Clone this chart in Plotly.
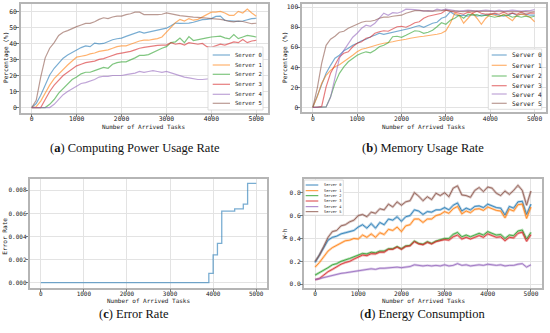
import plotly.graph_objects as go

W, H = 550, 333

# ---------------- data ----------------
tasks = list(range(0, 5001, 100))
servers = ["Server 0", "Server 1", "Server 2", "Server 3", "Server 4", "Server 5"]

cpu0 = [0, 2.5, 7.7, 14, 20.3, 24.5, 28, 30.8, 32.8, 34.5, 36, 37.4, 38.5, 38, 40.2, 39.7, 40, 41.2, 42.3, 42.9, 43.3,
        44.4, 45.4, 46.4, 47.3, 46.4, 47, 48, 48.5, 49, 49.5, 51, 52.7, 52.5, 52.5, 52.7, 53.2, 54, 54.8, 55, 55.5,
        56.9, 57, 54.3, 54, 54, 53.7, 54, 55, 55.5, 55.7]
cpu1 = [0, 0.5, 4, 9, 14, 18, 21, 24, 26.5, 29, 31.5, 32, 32.5, 33.5, 34, 35, 35.5, 36, 37, 38, 38.5, 38.5, 39.5,
        40.5, 41.5, 42, 42, 42.5, 43, 44, 47, 50, 53, 55, 54, 55.5, 54.5, 55, 56.5, 58.5, 59.5, 59.5, 60, 59, 57.5,
        57.5, 60, 59, 61.5, 59, 57]
cpu2 = [0, 0, 0, 0, 2, 5, 9, 12, 15, 17.5, 19, 21, 22, 22, 23, 24, 25, 24.5, 27, 28, 28.5, 28.5, 29.5, 31, 32.5,
        32.5, 33, 34.5, 36, 37, 38, 40.5, 41, 43.3, 40.5, 44.3, 41.8, 42.5, 43, 43.5, 44, 44.3, 44.5, 43.5, 42.8,
        45.5, 43, 44, 45, 44.5, 44]
cpu3 = [0, 0, 0, 5, 10, 14, 17, 20, 22, 24, 26, 27, 28, 28.5, 29, 30, 30.5, 31.5, 32.5, 33.5, 34, 34.5, 35, 36, 37,
        37.5, 38, 38.5, 38.8, 39, 39, 40.5, 39.5, 40, 39, 40.5, 40, 39.5, 40, 38, 37.5, 38.5, 39.5, 39, 40, 41, 40.5,
        42.5, 40.5, 41.5, 42]
cpu4 = [0, 0, 0, 0, 0, 2, 5, 8, 10, 11.5, 13, 15, 15.5, 16.5, 17.5, 19, 19.5, 19.5, 20, 20, 20, 20.5, 21, 21.5,
        22.5, 22, 22.5, 23, 22.5, 22, 22.5, 21.5, 21, 20, 19, 18.5, 18, 17.5, 17.5, 17.8, 18.5, 18.8, 19, 19, 19.2,
        19, 19, 19.3, 19.5, 19, 19]
cpu5 = [0, 4.5, 19, 31, 37, 40.5, 45, 47, 48, 49.5, 50.5, 51.5, 52.5, 52.5, 53.5, 55, 56, 55.5, 56.5, 57, 57, 58,
        58.5, 59.5, 59.5, 58, 57.8, 58, 58, 58.2, 59, 58.3, 57.8, 57.3, 57, 56.5, 56.4, 56.2, 56, 55.6, 55.3, 55, 55,
        54.5, 53.7, 53.5, 54, 53.7, 53, 52.3, 52.6]

mem0 = [0, 12, 24, 34, 42, 49, 52, 56.5, 59, 62, 64, 66.5, 68, 70.5, 72, 74, 73, 74, 74.5, 75.5, 76.5, 78, 79, 80.5,
        81.5, 80, 82, 84, 85, 89, 90.5, 95.5, 92.5, 91.5, 92, 91, 93, 91, 92, 92, 93, 93, 92, 91, 92, 94, 92, 93, 93,
        92, 92]
mem1 = [0, 10.5, 24, 32, 37, 40.5, 42.5, 45.5, 49, 52, 55.5, 58, 59, 60.5, 62, 63, 64, 64.5, 65.5, 66.5, 67, 68, 69,
        70, 70.5, 71, 71.5, 72, 73, 74, 76.5, 84, 94, 92, 84, 89, 94, 89, 83, 89, 93, 92, 90.5, 93, 90, 86.5, 92, 93,
        92, 90, 85.5]
mem2 = [0, 0, 0, 0.5, 10.5, 24, 34, 40.5, 45.5, 49, 52, 54, 55.5, 54.5, 57, 60.5, 62, 64.5, 70.5, 71, 70, 72, 74,
        76.5, 76, 74, 75, 77, 80.5, 84.5, 83, 87, 89, 92, 89, 93, 92, 92.5, 91, 92, 91, 90, 91, 92, 92, 90, 91, 90,
        91, 90, 91]
mem3 = [0, 0, 1, 20.5, 34, 42, 50.5, 54, 55.5, 60.5, 64, 65.5, 69, 70, 74, 75.5, 76.5, 76, 78, 80.5, 81, 80, 82,
        84.5, 85.5, 89, 91, 92, 93, 94, 97, 96, 95, 94, 93, 95, 94, 96, 94, 93, 93, 94, 93, 95, 93, 94, 93, 95, 93,
        94, 94]
mem4 = [0, 0, 0, 0.5, 10, 30, 49, 57, 64, 70, 74, 79, 82, 81, 84, 89, 94, 92, 94.5, 94, 95.5, 98, 98, 97.5, 97, 96,
        96.5, 96, 98, 97, 98, 97, 96.5, 96, 96.5, 97, 96.5, 96, 96.5, 97, 96.5, 96, 97, 96, 96.5, 97, 96.5, 96, 96.5,
        96.5, 97.5]
mem5 = [0, 19, 44, 62, 68, 71, 75, 76, 79, 81, 83, 85, 86, 86, 87, 89, 90, 90, 91, 91.5, 92, 94, 95.5, 96.5, 96.5,
        96, 96, 96, 96, 96.5, 97, 96, 96, 95.5, 95.5, 96, 96, 96, 95.5, 96, 96, 96, 95.5, 96, 96, 95.5, 96, 96, 95.5,
        95, 95.5]

err_tasks = [0, 3900, 4000, 4100, 4200, 4500, 4700, 4800, 5000]
err_rate = [0, 0.0008, 0.0024, 0.0034, 0.0062, 0.0064, 0.0068, 0.0086, 0.0086]

en0 = [0.19, 0.25, 0.32, 0.385, 0.41, 0.42, 0.44, 0.45, 0.46, 0.47, 0.50, 0.52, 0.49, 0.53, 0.49, 0.54, 0.52, 0.57,
       0.56, 0.59, 0.55, 0.59, 0.60, 0.65, 0.64, 0.61, 0.635, 0.63, 0.65, 0.65, 0.67, 0.65, 0.69, 0.71, 0.64, 0.665,
       0.65, 0.68, 0.685, 0.67, 0.70, 0.685, 0.67, 0.665, 0.605, 0.68, 0.665, 0.72, 0.725, 0.61, 0.70]
en1 = [0.15, 0.19, 0.24, 0.29, 0.32, 0.34, 0.36, 0.38, 0.385, 0.40, 0.395, 0.43, 0.41, 0.44, 0.41, 0.45, 0.435, 0.48,
       0.47, 0.50, 0.46, 0.51, 0.52, 0.57, 0.57, 0.54, 0.57, 0.57, 0.60, 0.61, 0.635, 0.62, 0.66, 0.68, 0.615, 0.64,
       0.625, 0.655, 0.66, 0.645, 0.675, 0.66, 0.645, 0.64, 0.58, 0.655, 0.64, 0.695, 0.70, 0.575, 0.675]
en2 = [0.08, 0.10, 0.125, 0.145, 0.17, 0.18, 0.20, 0.21, 0.225, 0.24, 0.255, 0.27, 0.265, 0.28, 0.275, 0.29, 0.29,
       0.31, 0.31, 0.33, 0.31, 0.335, 0.34, 0.378, 0.357, 0.35, 0.372, 0.357, 0.378, 0.386, 0.40, 0.40, 0.436, 0.453,
       0.415, 0.43, 0.415, 0.43, 0.445, 0.43, 0.46, 0.445, 0.43, 0.435, 0.40, 0.43, 0.425, 0.465, 0.474, 0.395, 0.453]
en3 = [0.04, 0.05, 0.08, 0.11, 0.13, 0.155, 0.175, 0.19, 0.20, 0.22, 0.24, 0.255, 0.25, 0.267, 0.265, 0.28, 0.28,
       0.305, 0.305, 0.325, 0.305, 0.33, 0.335, 0.372, 0.352, 0.345, 0.366, 0.352, 0.372, 0.378, 0.39, 0.385, 0.415,
       0.43, 0.395, 0.41, 0.395, 0.41, 0.425, 0.41, 0.44, 0.425, 0.41, 0.415, 0.38, 0.41, 0.405, 0.445, 0.455, 0.375,
       0.433]
en4 = [0.04, 0.05, 0.06, 0.07, 0.08, 0.09, 0.095, 0.10, 0.105, 0.11, 0.12, 0.125, 0.13, 0.135, 0.13, 0.14, 0.14, 0.145,
       0.15, 0.15, 0.145, 0.15, 0.155, 0.17, 0.165, 0.16, 0.165, 0.16, 0.165, 0.16, 0.17, 0.16, 0.165, 0.18, 0.165,
       0.17, 0.16, 0.165, 0.17, 0.165, 0.175, 0.17, 0.165, 0.17, 0.16, 0.165, 0.165, 0.175, 0.18, 0.15, 0.17]
en5 = [0.20, 0.255, 0.33, 0.41, 0.46, 0.47, 0.51, 0.52, 0.545, 0.56, 0.60, 0.61, 0.59, 0.63, 0.62, 0.66, 0.65, 0.70,
       0.675, 0.72, 0.69, 0.72, 0.73, 0.80, 0.77, 0.73, 0.765, 0.74, 0.795, 0.775, 0.80, 0.765, 0.84, 0.86, 0.78,
       0.775, 0.76, 0.82, 0.845, 0.81, 0.85, 0.84, 0.795, 0.775, 0.815, 0.785, 0.82, 0.865, 0.82, 0.69, 0.815]

cpu = [cpu0, cpu1, cpu2, cpu3, cpu4, cpu5]
mem = [mem0, mem1, mem2, mem3, mem4, mem5]
energy = [en0, en1, en2, en3, en4, en5]

captions = ["(<b>a</b>) Computing Power Usage Rate", "(<b>b</b>) Memory Usage Rate",
            "(<b>c</b>) Error Rate", "(<b>d</b>) Energy Consumption"]
x_title = "Number of Arrived Tasks"
y_titles = ["Percentage (%)", "Percentage (%)", "Error Rate", "W·h"]

# ---------------- style ----------------
RGB = [(31, 119, 180), (255, 127, 14), (44, 160, 44), (214, 39, 40), (148, 103, 189), (140, 86, 75)]
def rgba(c, a):
    return "rgba(%d,%d,%d,%s)" % (c[0], c[1], c[2], a)

MONO = "DejaVu Sans Mono"
SERIF = "Liberation Serif"
TXT = "#222222"
FRAME = "#b5b5b5"
GRID = "#e3e3e3"

def px(x):
    return x / W

def py(y):
    return 1 - y / H

fig = go.Figure()

# panel a
for i in range(6):
    fig.add_trace(go.Scatter(x=tasks, y=cpu[i], mode="lines", line=dict(color=rgba(RGB[i], 0.6), width=1.2),
                             showlegend=False, xaxis="x", yaxis="y"))
# panel b
for i in range(6):
    fig.add_trace(go.Scatter(x=tasks, y=mem[i], mode="lines", line=dict(color=rgba(RGB[i], 0.6), width=1.2),
                             showlegend=False, xaxis="x2", yaxis="y2"))
# panel c
fig.add_trace(go.Scatter(x=err_tasks, y=err_rate, mode="lines", line=dict(color=rgba(RGB[0], 0.6), width=1.3,
                                                                          shape="hv"),
                         showlegend=False, xaxis="x3", yaxis="y3"))
# panel d
for i in range(6):
    fig.add_trace(go.Scatter(x=tasks, y=energy[i], mode="lines", line=dict(color=rgba(RGB[i], 0.35), width=2.4),
                             showlegend=False, xaxis="x4", yaxis="y4", hoverinfo="skip"))
    fig.add_trace(go.Scatter(x=tasks, y=energy[i], mode="lines", line=dict(color=rgba(RGB[i], 1), width=0.8),
                             showlegend=False, xaxis="x4", yaxis="y4"))

panels = [
    dict(x0=20.5, x1=267.5, y0=4, y1=112.5, yr=[-3.1, 64.6], dt=10, fmt="", tf=6.4),
    dict(x0=301.7, x1=545.7, y0=4.3, y1=112.3, yr=[-4.9, 102.9], dt=20, fmt="", tf=6.3),
    dict(x0=30, x1=267, y0=178.5, y1=287.5, yr=[-0.00043, 0.00903], dt=0.002, fmt=".3f", tf=6.0),
    dict(x0=304.3, x1=541.7, y0=179.3, y1=287.7, yr=[-0.03, 0.917], dt=0.2, fmt=".1f", tf=6.2),
]

layout = dict(width=W, height=H, margin=dict(l=0, r=0, t=0, b=0), paper_bgcolor="white",
              plot_bgcolor="white", showlegend=False)
for k, p in enumerate(panels):
    sfx = "" if k == 0 else str(k + 1)
    common = dict(showline=True, mirror=True, linecolor=FRAME, linewidth=1.5, showgrid=True, gridcolor=GRID,
                  gridwidth=0.8, zeroline=False, ticks="outside", ticklen=2.5, tickwidth=0.7, tickcolor="#777777")
    layout["xaxis" + sfx] = dict(domain=[px(p["x0"]), px(p["x1"])], range=[-250, 5250], dtick=1000, tick0=0,
                                 anchor="y" + sfx, ticklabelstandoff=-3,
                                 tickfont=dict(family=MONO, size=p["tf"], color=TXT), **common)
    layout["yaxis" + sfx] = dict(domain=[py(p["y1"]), py(p["y0"])], range=p["yr"], dtick=p["dt"], tick0=0,
                                 tickformat=p["fmt"], anchor="x" + sfx, ticklabelstandoff=-2,
                                 tickfont=dict(family=MONO, size=p["tf"], color=TXT), **common)
fig.update_layout(**layout)

ann = []
# x-axis titles
for (cx, cy) in [(143.9, 127), (423.7, 127), (148.5, 300.5), (423, 300.5)]:
    ann.append(dict(x=px(cx), y=py(cy), xref="paper", yref="paper", text=x_title, showarrow=False,
                    xanchor="center", yanchor="middle", font=dict(family=MONO, size=6, color=TXT)))
# y-axis titles
for t, (cx, cy) in zip(y_titles, [(6, 58), (285, 58), (5, 236.7), (284.3, 234)]):
    ann.append(dict(x=px(cx), y=py(cy), xref="paper", yref="paper", text=t, showarrow=False, textangle=-90,
                    xanchor="center", yanchor="middle", font=dict(family=MONO, size=6.1, color=TXT)))
# captions
for t, (cx, cy) in zip(captions, [(135, 148), (423.3, 148), (134, 314.3), (423, 314.3)]):
    ann.append(dict(x=px(cx), y=py(cy), xref="paper", yref="paper", text=t, showarrow=False,
                    xanchor="center", yanchor="middle", font=dict(family=SERIF, size=12.5, color="#111111")))

shapes = []
legends = [
    dict(box=(208, 47, 263, 110), ys=[55, 65, 74.3, 84.3, 94.3, 103.3], lx=(212.7, 230), tx=233.3, fs=5.6,
         alpha=0.6, lw=1.2),
    dict(box=(488.3, 49, 541.7, 109.3), ys=[55, 65.3, 76, 85.7, 94, 103.3], lx=(491.7, 506.7), tx=510, fs=6.2,
         alpha=0.6, lw=1.2),
    dict(box=(304.3, 180, 343.3, 215.3), ys=[185, 190.7, 195.7, 201, 206.7, 211.7], lx=(305.7, 318.3), tx=321.7,
         fs=3.6, alpha=1, lw=0.9),
]
for lg in legends:
    bx0, by0, bx1, by1 = lg["box"]
    shapes.append(dict(type="rect", xref="paper", yref="paper", x0=px(bx0), x1=px(bx1), y0=py(by1), y1=py(by0),
                       line=dict(color="#d4d4d4", width=0.8), fillcolor="white", layer="above"))
    for i, yy in enumerate(lg["ys"]):
        shapes.append(dict(type="line", xref="paper", yref="paper", x0=px(lg["lx"][0]), x1=px(lg["lx"][1]),
                           y0=py(yy), y1=py(yy), line=dict(color=rgba(RGB[i], lg["alpha"]), width=lg["lw"]),
                           layer="above"))
        ann.append(dict(x=px(lg["tx"]), y=py(yy), xref="paper", yref="paper", text=servers[i], showarrow=False,
                        xanchor="left", yanchor="middle", font=dict(family=MONO, size=lg["fs"], color=TXT)))

fig.update_layout(annotations=ann, shapes=shapes)
fig.write_html("out.html", config={"displayModeBar": False},
               post_script="document.body.style.margin='0';document.body.style.padding='0';"
                           "document.documentElement.style.overflow='hidden';")
